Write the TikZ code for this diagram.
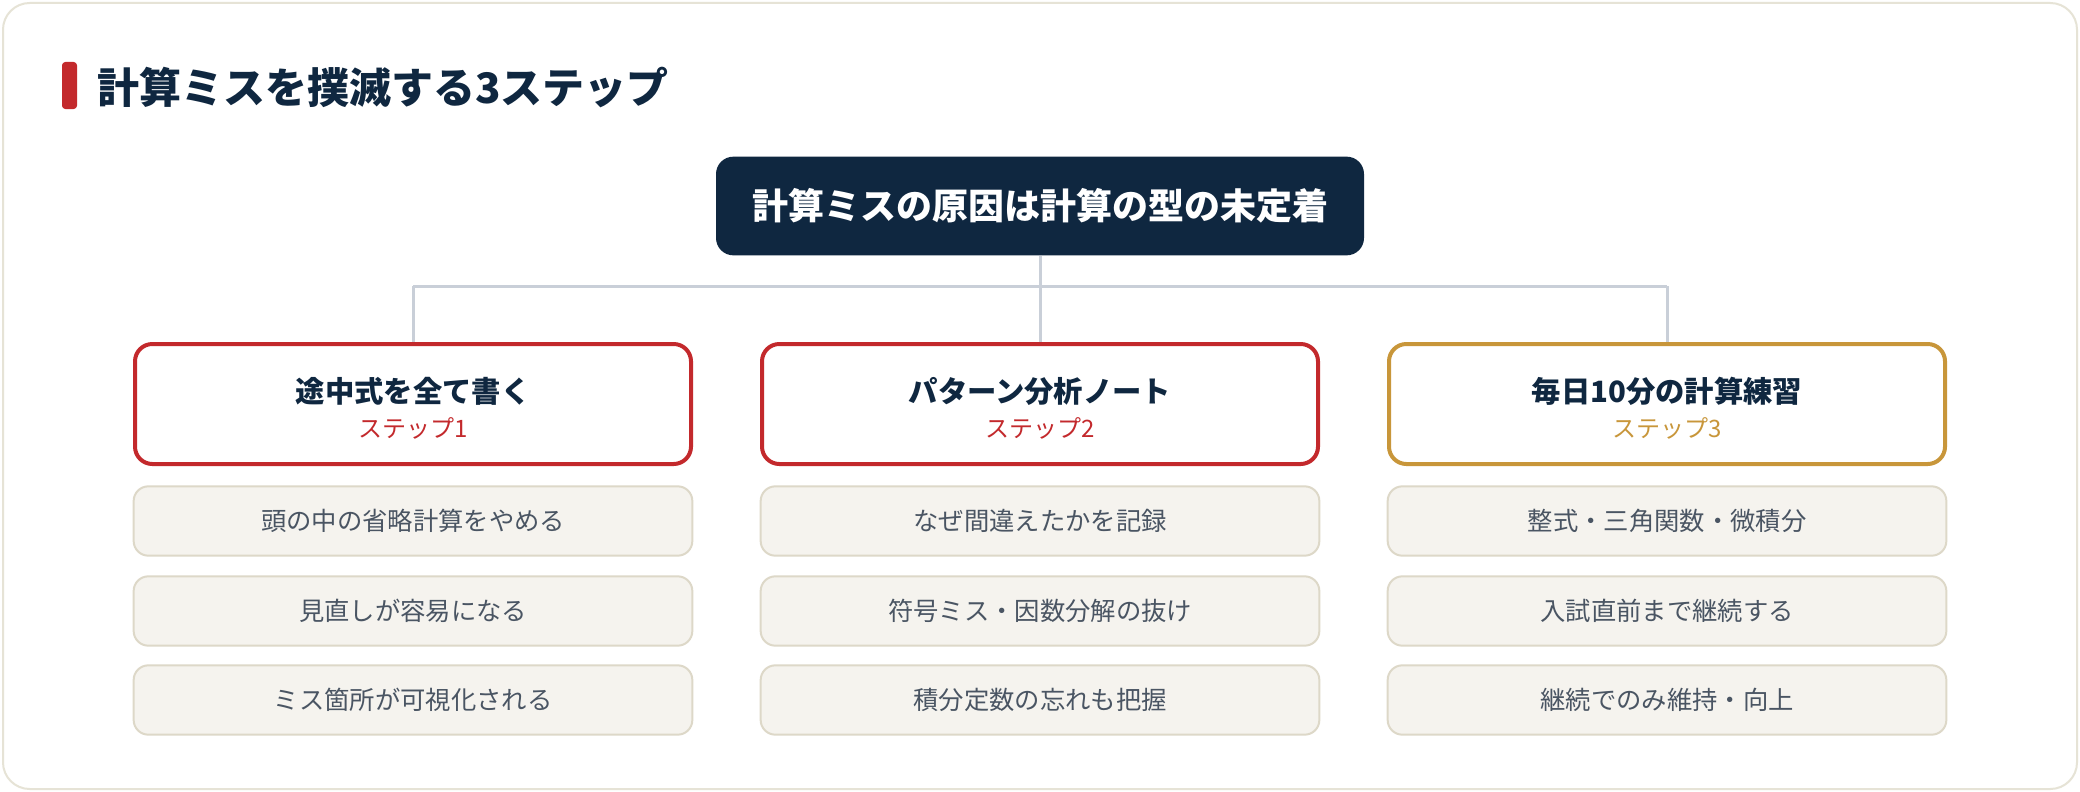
\documentclass[tikz,border=0pt]{standalone}
\usepackage{fontspec}
\setmainfont{Noto Sans CJK JP}
\usetikzlibrary{calc}
\definecolor{navy}{HTML}{0F2740}
\definecolor{cardborder}{HTML}{E6E3D6}
\definecolor{redc}{HTML}{C3292C}
\definecolor{goldc}{HTML}{C8963A}
\definecolor{linec}{HTML}{C9CFD8}
\definecolor{itemfill}{HTML}{F5F3EE}
\definecolor{itemborder}{HTML}{DDD8C8}
\definecolor{itemtext}{HTML}{4A5563}
\tikzset{
  card/.style={draw=cardborder, line width=1.5pt, fill=white, rounded corners=20pt},
  rootbox/.style={fill=navy, rounded corners=13pt, minimum width=486pt, minimum height=74pt, inner sep=0pt,
    text=white, font=\fontsize{27}{30}\selectfont\bfseries},
  stepbox/.style={draw=#1, line width=3pt, fill=white, rounded corners=13pt, minimum width=417pt, minimum height=90pt, inner sep=0pt},
  steptitle/.style={text=navy, font=\fontsize{22}{26}\selectfont\bfseries, inner sep=0pt},
  steplabel/.style={text=#1, font=\fontsize{18}{22}\selectfont, inner sep=0pt},
  itembox/.style={draw=itemborder, line width=1.5pt, fill=itemfill, rounded corners=11pt, minimum width=419pt, minimum height=52pt, inner sep=0pt,
    text=itemtext, font=\fontsize{19}{23}\selectfont},
  conn/.style={draw=linec, line width=2.25pt},
}
\begin{document}
\begin{tikzpicture}[x=0.75pt, y=-0.75pt]
\useasboundingbox (0,0) rectangle (2080,792);
\fill[white] (0,0) rectangle (2080,792);
\draw[card] (3,3) rectangle (2077,789);
% title
\fill[redc, rounded corners=2.5pt] (62,62) rectangle (77,109);
\node[anchor=west, inner sep=0pt, text=navy, font=\fontsize{31.5}{36}\selectfont\bfseries] (title) at (97,87) {計算ミスを撲滅する3ステップ};
% root
\node[rootbox] (root) at (1040,206) {計算ミスの原因は計算の型の未定着};
% step boxes
\node[stepbox=redc] (s1) at (413,404) {};
\node[stepbox=redc] (s2) at (1040,404) {};
\node[stepbox=goldc] (s3) at (1667,404) {};
\node[steptitle] (s1t) at (413,391) {途中式を全て書く};
\node[steptitle] (s2t) at (1040,391) {パターン分析ノート};
\node[steptitle] (s3t) at (1667,391) {毎日10分の計算練習};
\node[steplabel=redc] (s1l) at (413,428) {ステップ1};
\node[steplabel=redc] (s2l) at (1040,428) {ステップ2};
\node[steplabel=goldc] (s3l) at (1667,428) {ステップ3};
% connectors
\coordinate (j) at (1040,286);
\coordinate (jl) at (413,286);
\coordinate (jr) at (1667,286);
\draw[conn] (root.south) -- (j);
\draw[conn] (jl) -- (jr);
\draw[conn] (jl) -- (s1.north);
\draw[conn] (j) -- (s2.north);
\draw[conn] (jr) -- (s3.north);
% items
\node[itembox] (a1) at (413,521) {頭の中の省略計算をやめる};
\node[itembox] (a2) at (413,611) {見直しが容易になる};
\node[itembox] (a3) at (413,700) {ミス箇所が可視化される};
\node[itembox] (b1) at (1040,521) {なぜ間違えたかを記録};
\node[itembox] (b2) at (1040,611) {符号ミス・因数分解の抜け};
\node[itembox] (b3) at (1040,700) {積分定数の忘れも把握};
\node[itembox] (c1) at (1667,521) {整式・三角関数・微積分};
\node[itembox] (c2) at (1667,611) {入試直前まで継続する};
\node[itembox] (c3) at (1667,700) {継続でのみ維持・向上};
\end{tikzpicture}
\end{document}
